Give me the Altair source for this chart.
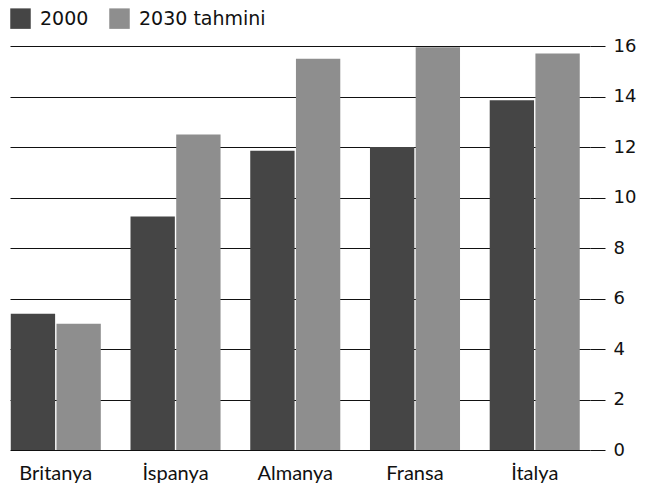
import altair as alt
import pandas as pd

countries = ["Britanya", "İspanya", "Almanya", "Fransa", "İtalya"]
series = ["2000", "2030 tahmini"]
values_2000 = [5.4, 9.25, 11.85, 12.0, 13.85]
values_2030 = [5.0, 12.5, 15.5, 15.95, 15.7]
y_ticks = [0, 2, 4, 6, 8, 10, 12, 14, 16]

rows = []
for c, a, b in zip(countries, values_2000, values_2030):
    rows.append({"ulke": c, "seri": series[0], "deger": a})
    rows.append({"ulke": c, "seri": series[1], "deger": b})
df = pd.DataFrame(rows)

NUMFONT = "DejaVu Sans"
CATFONT = "Lato"

bars = alt.Chart(df).mark_bar(stroke=None).encode(
    x=alt.X("ulke:N", sort=countries, title=None,
            scale=alt.Scale(paddingInner=0.248, paddingOuter=0.046, align=0.07),
            axis=alt.Axis(orient="bottom", domain=False, ticks=False, labelAngle=0,
                          labelFontSize=20, labelFont=CATFONT, labelColor="#111111",
                          labelPadding=13, grid=False)),
    xOffset=alt.XOffset("seri:N", sort=series, scale=alt.Scale(paddingInner=0.03)),
    y=alt.Y("deger:Q", title=None,
            scale=alt.Scale(domain=[0, 16], nice=False),
            axis=alt.Axis(orient="right", values=y_ticks, domain=False,
                          tickSize=15, tickColor="#111111", tickWidth=1,
                          labelFontSize=18, labelFont=NUMFONT, labelColor="#111111",
                          labelPadding=8, grid=True, gridColor="#111111",
                          gridWidth=1)),
    color=alt.Color("seri:N", sort=series,
                    scale=alt.Scale(domain=series, range=["#454545", "#8e8e8e"]),
                    legend=alt.Legend(title=None, orient="none", legendX=0, legendY=-38,
                                      direction="horizontal", symbolType="square",
                                      symbolSize=420, symbolStrokeWidth=0,
                                      labelFontSize=19, labelFont=NUMFONT,
                                      labelColor="#111111", columnPadding=20,
                                      padding=0, labelOffset=9)),
)

chart = bars.properties(
    width=580, height=404,
    padding={"left": 2, "top": 0, "right": 5, "bottom": 5},
).configure_view(stroke=None).configure_axis(gridOpacity=1)

chart.save("out.html", embed_options={"renderer": "svg", "actions": False})
